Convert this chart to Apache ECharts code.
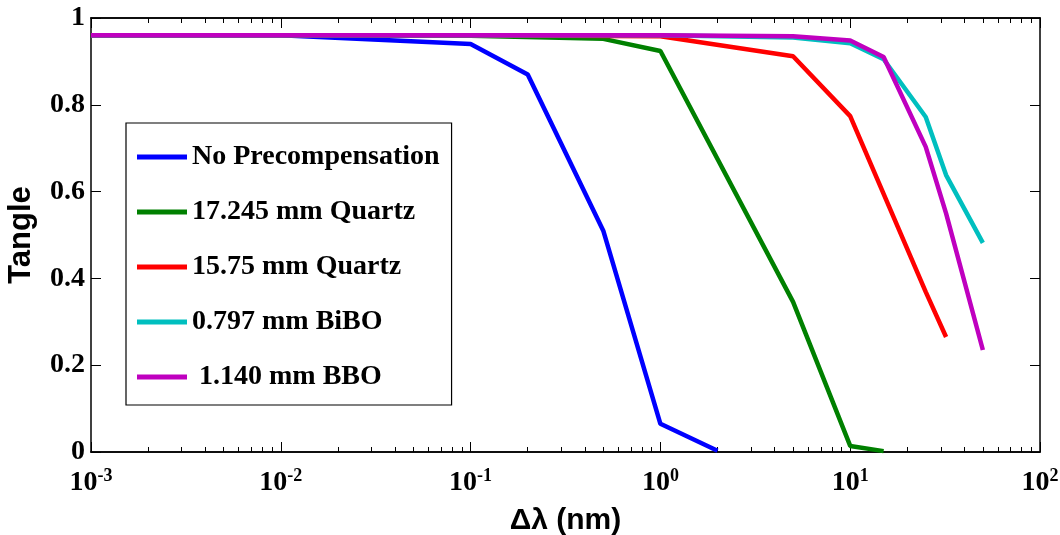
<!DOCTYPE html>
<html>
<head>
<meta charset="utf-8">
<script src="https://cdn.jsdelivr.net/npm/echarts@6/dist/echarts.min.js"></script>
<style>html,body{margin:0;padding:0;background:#fff}#c{width:1060px;height:535px}</style>
</head>
<body>
<div id="c"></div>
<script>
// ---- data ----
const seriesNames = ['No Precompensation', '17.245 mm Quartz', '15.75 mm Quartz', '0.797 mm BiBO', ' 1.140 mm BBO'];
const xBlue = [0.001, 0.01, 0.1, 0.2, 0.5, 1, 2];
const yBlue = [0.96, 0.96, 0.94, 0.87, 0.51, 0.065, 0.003];
const xGreen = [0.001, 0.01, 0.1, 0.5, 1, 5, 10, 15];
const yGreen = [0.96, 0.96, 0.959, 0.952, 0.924, 0.346, 0.014, 0.002];
const xRed = [0.001, 0.01, 0.1, 1, 5, 10, 25, 32];
const yRed = [0.96, 0.96, 0.96, 0.958, 0.912, 0.774, 0.369, 0.265];
const xCyan = [0.001, 0.01, 0.1, 1, 5, 10, 15, 25, 32, 50];
const yCyan = [0.96, 0.96, 0.96, 0.96, 0.955, 0.942, 0.905, 0.772, 0.638, 0.482];
const xMagenta = [0.001, 0.01, 0.1, 1, 5, 10, 15, 25, 32, 50];
const yMagenta = [0.96, 0.96, 0.96, 0.96, 0.958, 0.948, 0.91, 0.703, 0.55, 0.235];
const yTicks = [0, 0.2, 0.4, 0.6, 0.8, 1];
const xMajorTicks = [0.001, 0.01, 0.1, 1, 10, 100];
const xMinorTicks = [];
for (let d = -3; d <= 1; d++) { for (let k = 2; k <= 9; k++) xMinorTicks.push(+(k * Math.pow(10, d)).toPrecision(3)); }

const colors = ['#0000FF', '#008000', '#FF0000', '#00BFBF', '#BF00BF'];
const zip = (xs, ys) => xs.map((x, i) => [x, ys[i]]);
const allX = [xBlue, xGreen, xRed, xCyan, xMagenta];
const allY = [yBlue, yGreen, yRed, yCyan, yMagenta];

const AX = '#000';
const serif = 'Liberation Serif';
const sans = 'Liberation Sans';

function xAxisDef(pos, major, showLabel, name) {
  return {
    type: 'log', logBase: 10, min: 0.001, max: 100, position: pos,
    name: name || '', nameLocation: 'middle', nameGap: 45,
    nameTextStyle: { fontFamily: sans, fontWeight: 'bold', fontSize: 30, color: '#000' },
    axisLine: { show: true, onZero: false, lineStyle: { color: AX, width: 1.5 } },
    axisTick: { show: true, inside: true, length: major ? 10 : 5, lineStyle: { color: AX, width: 1 },
      customValues: major ? xMajorTicks : xMinorTicks },
    axisLabel: showLabel ? {
      show: true, margin: 15, customValues: xMajorTicks, hideOverlap: false,
      formatter: v => '{b|10}{s|' + Math.round(Math.log10(v)) + '}',
      rich: {
        b: { fontFamily: serif, fontWeight: 'bold', fontSize: 28, color: '#000', lineHeight: 30, verticalAlign: 'bottom' },
        s: { fontFamily: serif, fontWeight: 'bold', fontSize: 18, color: '#000', lineHeight: 30, verticalAlign: 'top', padding: [0, 0, 16, 0] }
      }
    } : { show: false },
    splitLine: { show: false }, minorTick: { show: false }, minorSplitLine: { show: false }
  };
}
function yAxisDef(pos, showLabel) {
  return {
    type: 'value', min: 0, max: 1, interval: 0.2, position: pos,
    name: showLabel ? 'Tangle' : '', nameLocation: 'middle', nameGap: 54, nameRotate: 90,
    nameTextStyle: { fontFamily: sans, fontWeight: 'bold', fontSize: 31, color: '#000' },
    axisLine: { show: true, lineStyle: { color: AX, width: 1.5 } },
    axisTick: { show: true, inside: true, length: 10, lineStyle: { color: AX, width: 1 } },
    axisLabel: showLabel ? {
      show: true, margin: 6, fontFamily: serif, fontWeight: 'bold', fontSize: 28, color: '#000',
      formatter: v => (v === 0 || v === 1) ? String(v) : v.toFixed(1)
    } : { show: false },
    splitLine: { show: false }
  };
}

const option = {
  animation: false,
  backgroundColor: '#fff',
  grid: { left: 91, right: 20, top: 18, bottom: 83, containLabel: false, outerBoundsMode: 'none' },
  xAxis: [
    xAxisDef('bottom', true, true, 'Δλ (nm)'),
    xAxisDef('bottom', false, false),
    xAxisDef('top', true, false),
    xAxisDef('top', false, false)
  ],
  yAxis: [yAxisDef('left', true), yAxisDef('right', false)],
  legend: {
    orient: 'vertical', left: 126, top: 123,
    padding: [20, 12, 14, 11], itemGap: 27,
    itemWidth: 50, itemHeight: 5, icon: 'rect',
    backgroundColor: '#fff', borderColor: '#000', borderWidth: 1.2,
    textStyle: { fontFamily: serif, fontWeight: 'bold', fontSize: 28, lineHeight: 28, color: '#000' },
    data: seriesNames
  },
  series: seriesNames.map((n, i) => ({
    name: n, type: 'line', xAxisIndex: 0, yAxisIndex: 0,
    data: zip(allX[i], allY[i]),
    showSymbol: false, symbol: 'none',
    color: colors[i],
    lineStyle: { color: colors[i], width: 4.5 },
    z: 2 + i
  }))
};
const chart = echarts.init(document.getElementById('c'), null, { renderer: 'canvas' });
chart.setOption(option);
</script>
</body>
</html>
